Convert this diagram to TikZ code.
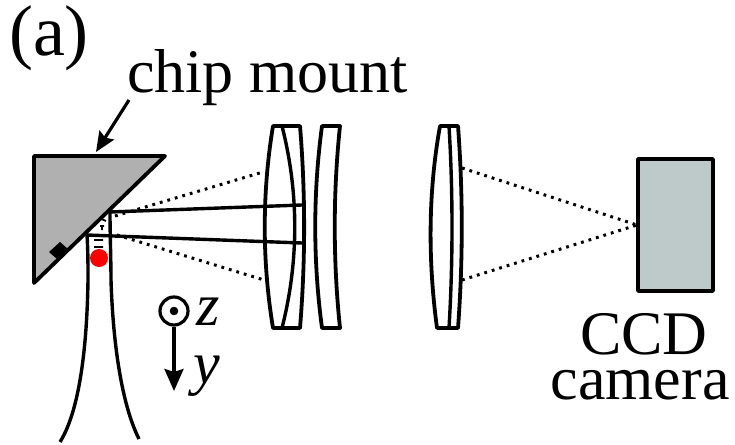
\documentclass[tikz,border=0pt]{standalone}
\usepackage{fontspec}
\setmainfont{Liberation Serif}
\usetikzlibrary{arrows.meta}
\definecolor{mountgray}{RGB}{176,176,176}
\definecolor{ccdfill}{RGB}{190,202,202}
\tikzset{
  x=1pt,y=-1pt,
  outl/.style={draw=black,line width=3.8pt,line join=round},
  thin outl/.style={draw=black,line width=3.4pt,line join=round},
  beam/.style={draw=black,line width=3.4pt},
  dots/.style={draw=black,line width=3pt,dash pattern=on 2.8pt off 5pt},
  label/.style={inner sep=0pt,font=\fontsize{62}{62}\selectfont,anchor=base},
  panel/.style={inner sep=0pt,font=\fontsize{72}{72}\selectfont,anchor=base},
  axis label/.style={inner sep=0pt,font=\fontsize{60}{60}\selectfont\itshape,anchor=base}
}
\begin{document}
\begin{tikzpicture}
\useasboundingbox (0,0) rectangle (735,444);
% mount
\draw[outl,fill=mountgray] (34,156) -- (165,156) -- (34,283) -- cycle;
\fill[black] (60,242) -- (68,249) -- (57,259) -- (49,252) -- cycle;
% dotted rays
\coordinate (fa) at (115,216); \coordinate (fb) at (117,235);
\coordinate (la) at (263,172); \coordinate (lb) at (264,280);
\coordinate (ra) at (462,168); \coordinate (rb) at (462,280);
\coordinate (ccdf) at (637,225);
\draw[dots] (fa) -- (la);
\draw[dots] (fb) -- (lb);
\draw[dots] (ra) -- (ccdf);
\draw[dots] (rb) -- (ccdf);
% lenses
\draw[outl] (273,126) -- (300,126) .. controls (305.5,193) and (305.5,261) .. (300,328) -- (273,328) .. controls (262,261) and (262,193) .. (273,126) -- cycle;
\draw[thin outl] (282,126) .. controls (299,193) and (299,261) .. (282,328);
\draw[outl] (322,126) -- (340,126) .. controls (333,193) and (333,261) .. (340,328) -- (322,328) .. controls (313,261) and (313,193) .. (322,126) -- cycle;
\draw[outl] (440,126) -- (458,126) .. controls (463,193) and (463,261) .. (458,328) -- (437,328) .. controls (428,261) and (428,193) .. (440,126) -- cycle;
\draw[thin outl] (449,126) .. controls (453,193) and (453,261) .. (449,328);
% beam
\coordinate (ba) at (110,212); \coordinate (bb) at (87,235);
\coordinate (ea) at (302,205); \coordinate (eb) at (302,243);
\draw[beam] (ba) -- (ea);
\draw[beam] (bb) -- (eb);
% fibre
\draw[beam] (ba) .. controls (110,235) and (111,260) .. (111,280) .. controls (113,345) and (122,405) .. (139,439);
\draw[beam] (bb) .. controls (88,250) and (88,265) .. (88,280) .. controls (87,345) and (80,410) .. (60,442);
\draw[black,line width=1.8pt] (99,218) -- (106,221) (100,226) -- (104,226) (102,226) -- (102,230) (94,240) -- (103,240) (94,247) -- (103,247);
\fill[red] (99,258) circle (9);
% ccd
\draw[outl,fill=ccdfill] (638,159) rectangle (713,291);
% axes
\node[draw=black,line width=3.2pt,circle,minimum size=28pt,inner sep=0pt] (zc) at (174,311) {};
\fill[black] (zc.center) circle (4.3);
\coordinate (yend) at (174,391);
\draw[line width=3.2pt,-{Stealth[length=22pt,width=19pt,inset=3pt]}] (zc.south) -- (yend);
\node[axis label] (zl) at (208,325) {z};
\node[axis label] (yl) at (207,383) {y};
% text
\node[panel] (a) at (49,56) {(a)};
\node[label] (chip) at (267.5,92) {chip mount};
\node[label] (ccd) at (644,354) {CCD};
\node[label] (cam) at (640,399) {camera};
\coordinate (tip) at (96,152);
\coordinate (tail) at (129,100);
\draw[line width=3.2pt,-{Stealth[length=20pt,width=17pt,inset=3pt]}] (tail) -- (tip);
\end{tikzpicture}
\end{document}
